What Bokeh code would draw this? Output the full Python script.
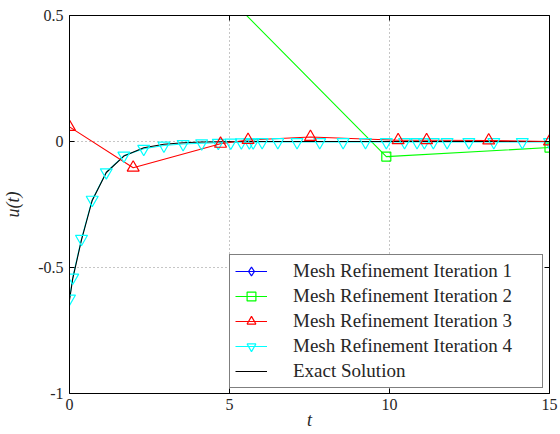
from bokeh.plotting import figure
from bokeh.models import (LinearAxis, FixedTicker, Legend, LegendItem, Range1d,
                          CustomJSTickFormatter)
from bokeh.embed import file_html
from bokeh.resources import INLINE

# ---------------- data ----------------
iter1_t = [0.0, 15.0]
iter1_u = [1.6, 1.4]

iter2_t = [0.0, 9.9, 15.0]
iter2_u = [1.21, -0.06, -0.024]

iter3_t = [0.0, 1.99, 4.72, 5.58, 7.53, 10.27, 11.16, 13.1, 15.0]
iter3_u = [0.058, -0.104, -0.009, 0.006, 0.018, 0.005, 0.005, 0.004, 0.0]

iter4_t = [0.0, 0.1, 0.375, 0.71, 1.15, 1.70, 2.32, 2.95, 3.55, 4.13, 4.65,
           5.04, 5.37, 5.62, 5.74, 6.02, 6.51, 7.11, 7.82, 8.55, 9.25, 9.90,
           10.47, 10.86, 11.09, 11.37, 11.80, 12.48, 13.26, 14.15, 15.0]
iter4_u = [-0.623, -0.54, -0.386, -0.231, -0.122, -0.056, -0.029, -0.016,
           -0.010, -0.007, -0.005, -0.004, -0.003, -0.003, -0.003, -0.002,
           -0.002, -0.002, -0.002, -0.002, -0.002, -0.002, -0.002, -0.002,
           -0.002, -0.002, -0.002, -0.002, -0.002, -0.002, -0.002]

exact_t = [0.0, 0.1, 0.375, 0.71, 1.15, 1.70, 2.32, 2.95, 3.55, 4.13, 4.65,
           5.37, 6.02, 7.11, 8.55, 9.90, 11.37, 13.26, 15.0]
exact_u = [-0.63, -0.545, -0.39, -0.234, -0.123, -0.058, -0.025, -0.011,
           -0.005, -0.002, -0.001, 0.0, 0.0, 0.0, 0.0, 0.0, 0.0, 0.0, 0.0]

y_ticks = [-1.0, -0.5, 0.0, 0.5]
y_tick_labels = ["-1", "-0.5", "0", "0.5"]
x_ticks = [0, 5, 10, 15]
x_tick_labels = ["0", "5", "10", "15"]

labels = ["Mesh Refinement Iteration 1", "Mesh Refinement Iteration 2",
          "Mesh Refinement Iteration 3", "Mesh Refinement Iteration 4",
          "Exact Solution"]

FONT = "Liberation Serif"
TXT = "#262626"

p = figure(width=560, height=434, x_range=Range1d(0, 15), y_range=Range1d(-1, 0.5),
           output_backend="svg", toolbar_location=None,
           min_border_left=69, min_border_right=11, min_border_top=15,
           min_border_bottom=41, x_axis_location=None, y_axis_location=None)
p.outline_line_color = None
p.background_fill_color = "white"

def style_axis(ax, ticks, labs, show):
    ax.ticker = FixedTicker(ticks=ticks)
    ax.major_tick_in = 5
    ax.major_tick_out = 0
    ax.minor_tick_line_color = None
    ax.axis_line_color = "black"
    ax.axis_line_width = 1
    ax.major_tick_line_color = "black"
    if show:
        ax.major_label_overrides = {t: l for t, l in zip(ticks, labs)}
        ax.major_label_text_font = FONT
        ax.major_label_text_font_size = "16px"
        ax.major_label_text_color = TXT
    else:
        ax.formatter = CustomJSTickFormatter(code="return ''")
        ax.major_label_text_font_size = "0px"
        ax.major_label_standoff = 0

xb = LinearAxis(axis_label="t")
style_axis(xb, x_ticks, x_tick_labels, True)
xb.major_label_standoff = 5
xb.axis_label_standoff = -3
xb.axis_label_text_font = FONT
xb.axis_label_text_font_style = "italic"
xb.axis_label_text_font_size = "18px"
xb.axis_label_text_color = TXT
p.add_layout(xb, "below")

yl = LinearAxis(axis_label="u(t)")
style_axis(yl, y_ticks, y_tick_labels, True)
yl.major_label_standoff = 6
yl.axis_label_standoff = 12
yl.axis_label_text_font = FONT
yl.axis_label_text_font_style = "italic"
yl.axis_label_text_font_size = "18px"
yl.axis_label_text_color = TXT
p.add_layout(yl, "left")

xt = LinearAxis()
style_axis(xt, x_ticks, x_tick_labels, False)
p.add_layout(xt, "above")

yr = LinearAxis()
style_axis(yr, y_ticks, y_tick_labels, False)
p.add_layout(yr, "right")

p.xgrid.ticker = FixedTicker(ticks=x_ticks)
p.ygrid.ticker = FixedTicker(ticks=y_ticks)
for g in (p.xgrid, p.ygrid):
    g.grid_line_color = "#8c8c8c"
    g.grid_line_dash = "1 3"
    g.grid_line_width = 1

BLUE, GREEN, RED, CYAN = "#0000ff", "#00ff00", "#ff0000", "#00ffff"

# lines
l1 = p.line(iter1_t, iter1_u, line_color=BLUE, line_width=1.1)
l2 = p.line(iter2_t, iter2_u, line_color=GREEN, line_width=1.1)
l4 = p.line(iter4_t, iter4_u, line_color=CYAN, line_width=1.1)
le = p.line(exact_t, exact_u, line_color="black", line_width=1.1)
l3 = p.line(iter3_t, iter3_u, line_color=RED, line_width=1.1)

# markers
m1 = p.scatter(iter1_t, iter1_u, marker="diamond", size=13, fill_color=None,
               line_color=BLUE, line_width=1.2)
m2 = p.scatter(iter2_t, iter2_u, marker="square", size=9, fill_color=None,
               line_color=GREEN, line_width=1.2)
m4 = p.scatter(iter4_t, iter4_u, marker="inverted_triangle", size=12, fill_color=None,
               line_color=CYAN, line_width=1.2)
m3 = p.scatter(iter3_t, iter3_u, marker="triangle", size=12, fill_color=None,
               line_color=RED, line_width=1.2)

legend = Legend(items=[
    LegendItem(label=labels[0], renderers=[l1, m1]),
    LegendItem(label=labels[1], renderers=[l2, m2]),
    LegendItem(label=labels[2], renderers=[l3, m3]),
    LegendItem(label=labels[3], renderers=[l4, m4]),
    LegendItem(label=labels[4], renderers=[le]),
])
legend.location = (160, 5)
legend.margin = 0
legend.padding = 5
legend.spacing = 3
legend.glyph_width = 32
legend.glyph_height = 22
legend.label_height = 22
legend.label_width = 244
legend.label_standoff = 26
legend.label_text_font = FONT
legend.label_text_font_size = "19px"
legend.label_text_color = TXT
legend.border_line_color = "black"
legend.border_line_width = 1
legend.background_fill_alpha = 1.0
p.add_layout(legend, "center")

open("out.html", "w").write(file_html(p, INLINE))
